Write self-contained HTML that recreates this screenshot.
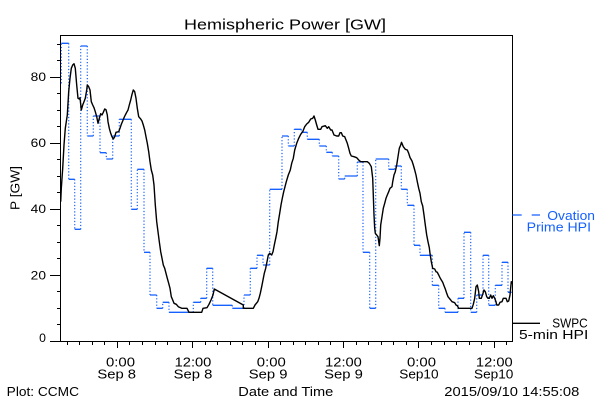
<!DOCTYPE html>
<html><head><meta charset="utf-8"><style>
html,body{margin:0;padding:0;background:#fff;}
svg{display:block;}
text{font-family:"Liberation Sans",sans-serif;fill:#000;}
</style></head><body>
<svg width="600" height="400" viewBox="0 0 600 400" xmlns="http://www.w3.org/2000/svg">
<rect width="600" height="400" fill="#fff"/>
<text x="184" y="29.5" font-size="15" textLength="202" lengthAdjust="spacingAndGlyphs">Hemispheric Power [GW]</text>

<!-- blue series -->
<g fill="none" stroke="#1560ff">
<path stroke-width="1.3" d="M60 83.3H61.3 M61.3 43.3H68.7 M68.7 179.3H74.7 M74.7 229.3H80.7 M80.7 46H87.3 M87.3 136H93.3 M93.3 116H100 M100 152.7H106.3 M106.3 159H112.7 M112.7 136H119.3 M119.3 119.3H131.3 M131.3 209.3H137.3 M137.3 169.3H144 M144 252.3H150 M150 295H156.7 M156.7 308.3H162.7 M162.7 302.3H169 M169 312.3H193.3 M193.3 302.3H200.7 M200.7 298.3H206.7 M206.7 268.3H212.7 M212.7 305.3H232.3 M232.3 308.3H244 M244 295H250.3 M250.3 268.3H257 M257 255.3H263 M263 265H269.7 M269.7 189.3H282 M282 136H288.3 M288.3 146H294.3 M294.3 129.3H301.3 M301.3 132.3H307.3 M307.3 139.3H319.3 M319.3 146H326.3 M326.3 152.3H332.3 M332.3 156H338.7 M338.7 179H344.7 M344.7 176H357.3 M357.3 162H363 M363 252.3H369.7 M369.7 308.3H375.7 M375.7 159H388.7 M388.7 169.3H394.7 M394.7 166H401.3 M401.3 189.3H407.3 M407.3 205.3H414 M414 245.3H420 M420 255.3H432.3 M432.3 285.3H438.7 M438.7 308.3H445 M445 312.3H458 M458 298.3H464 M464 232.3H470.7 M470.7 312.3H476.7 M476.7 295H483 M483 255.3H488.7 M488.7 305.3H495.3 M495.3 285.3H502 M502 262.3H508 M508 292.3H511.7"/>
<path stroke-width="1.2" stroke-dasharray="1.2 2" d="M61.3 83.3V43.3 M68.7 43.3V179.3 M74.7 179.3V229.3 M80.7 229.3V46 M87.3 46V136 M93.3 136V116 M100 116V152.7 M106.3 152.7V159 M112.7 159V136 M119.3 136V119.3 M131.3 119.3V209.3 M137.3 209.3V169.3 M144 169.3V252.3 M150 252.3V295 M156.7 295V308.3 M162.7 308.3V302.3 M169 302.3V312.3 M193.3 312.3V302.3 M200.7 302.3V298.3 M206.7 298.3V268.3 M212.7 268.3V305.3 M232.3 305.3V308.3 M244 308.3V295 M250.3 295V268.3 M257 268.3V255.3 M263 255.3V265 M269.7 265V189.3 M282 189.3V136 M288.3 136V146 M294.3 146V129.3 M301.3 129.3V132.3 M307.3 132.3V139.3 M319.3 139.3V146 M326.3 146V152.3 M332.3 152.3V156 M338.7 156V179 M344.7 179V176 M357.3 176V162 M363 162V252.3 M369.7 252.3V308.3 M375.7 308.3V159 M388.7 159V169.3 M394.7 169.3V166 M401.3 166V189.3 M407.3 189.3V205.3 M414 205.3V245.3 M420 245.3V255.3 M432.3 255.3V285.3 M438.7 285.3V308.3 M445 308.3V312.3 M458 312.3V298.3 M464 298.3V232.3 M470.7 232.3V312.3 M476.7 312.3V295 M483 295V255.3 M488.7 255.3V305.3 M495.3 305.3V285.3 M502 285.3V262.3 M508 262.3V292.3"/>
</g>

<!-- black series -->
<polyline fill="none" stroke="#000" stroke-width="1.4" stroke-linejoin="round" points="
60.7,201.7 61.3,188.3 62.7,168.3 64,145 65.3,128.3 67.3,115 68.7,91.7 70,78.3 71.3,68.3 72.7,65 74,63.7 75.3,68.3 76.7,85 78,98.3 79.3,99 80,97.7 81.3,110 82.7,105 84,101.7 85.3,98.3 86.7,90 87.3,85 88.7,86.7 90,90 91.3,101.7 92.7,105 94,107.7 95.3,111.7 96.7,116.7 98,123.3 99.3,118.3 100.7,113.7 102,115 103.3,112.3 104.7,109 106,109.7 107.3,115 108,121.7 109.3,128.3 110.7,133.3 112,136.7 113.3,139 114.7,136.7 116,132.3 118.7,131.7 120,128.3 121.3,124.3 122.7,121 124,117.7 125.3,115 126.7,112.3 128,110 129.3,105 130.7,100 132,94.3 133.3,90 134.7,91.7 136,98.3 137.3,108.3 138.7,116.7 140.7,119 142,121 143.3,125 144.7,130 146,136.7 147.3,143.3 148.7,151.7 150,161.7 151.3,170 152.7,175 154,185 155.3,205 156.7,221.7 158,231.7 159.3,241.7 160.7,251.7 162,258.3 163.3,265 164.7,268.3 166,273.3 167.3,278.3 168.7,283.3 170,288.3 171.3,296.7 172.7,300 174,303.3 176.3,304.3 178.3,306.7 181.7,308.3 187,308.3 189,312.3 201.7,312.3 203,308.3 207,307.7 209,304.3 211,300 213,295 214.3,289 243.3,305 243.3,308.3 253.3,308.3 255,305 257.7,301.7 259,298.3 260.3,293.3 261.7,286.7 263,280 264.3,273.3 265.7,268.3 267,261.7 268.3,255 269.7,253.3 271.7,255 273,251.7 274.3,245 275.7,238.3 277,231.7 278.3,221.7 279.7,213.3 281,205 282.3,198.3 283.7,191.7 285,186.7 286.3,181.7 288.3,175 290.3,170 291.7,163.3 293.3,158.3 294.7,150 296.7,143.3 298.7,138.3 300.7,134.3 302.7,131.7 304.7,126.7 306.7,124 308.7,122.3 310.7,119 312.7,118.3 314,116 315.3,120 316.7,125 318,129.3 320.7,129.3 322,126.7 325.3,125.7 327.3,128.3 328.7,126.7 330.7,130 332,130 334,135 336.7,136 338.7,136 340,132.7 341.3,132.7 342.7,136 344.7,136.7 346,140 347.3,143.3 348.7,148.3 350,153.3 351.3,156 354,156.7 356.7,157.7 358.7,160 360.7,161.7 367.3,161.7 369.3,163.3 371.3,166.7 372.7,178.3 373.3,195 374,215 374.7,228.3 375.3,233.3 376.7,235 378,236.7 379.3,245.7 380,238.3 380.7,225 382,216.7 383.3,208.3 384.7,203.3 386,198.3 387.3,195 388.7,191.7 390,188.3 392,186.7 392.7,181.7 394,175 395.3,171.7 396.7,165 398,156.7 399.3,148.3 400.7,145 401.5,142.3 403.3,146.7 405.3,149.3 407.3,150 408.7,153.3 410,157.5 412,161 413.3,165 414.7,170 416,175 417.3,181.7 418.7,188.3 420,193.3 421.3,201.7 422.7,206 424,215 425.3,225 426.7,235 428,241.7 429.3,247.7 430,253.3 431.3,261.7 432.7,268.3 434.7,269 436,271.7 437.3,272.3 438.7,275 440,277.7 441.3,280 442.7,282.3 444,285.7 445.3,289 446.7,293.3 448,296.7 449.3,298.3 450.7,300 452,301.7 454.7,302.7 456,305 457.3,305.7 458.7,308.3 472,308.3 473.3,304.3 474.7,298.3 476,286.7 477.3,285 478.7,291.7 479.3,298.3 481.3,298.3 482.7,294.3 484,290 485.3,291.7 486.7,296.7 488,298.3 489.3,298.3 490.7,295 492,298.3 493.3,295.7 494.7,298.3 496,301.7 496.7,305 498.7,305 500,302.3 502,301.7 503.3,298.3 506,298.3 507.3,301.7 508.7,301 510,295 511.3,281.7 512.5,283.3"/>

<!-- axes -->
<g stroke="#000" stroke-width="1" fill="none" shape-rendering="crispEdges">
<rect x="60.5" y="35.5" width="452" height="306"/>
<path d="M50 341.5H60 M50 275.5H60 M50 209.5H60 M50 143.5H60 M50 77.5H60"/>
<path d="M57 324.5H60 M57 308.5H60 M57 291.5H60 M57 258.5H60 M57 242.5H60 M57 225.5H60 M57 192.5H60 M57 176.5H60 M57 159.5H60 M57 126.5H60 M57 110.5H60 M57 93.5H60 M57 60.5H60 M57 44.5H60"/>
<path d="M117.5 341V348 M192.5 341V348 M268.5 341V348 M343.5 341V348 M418.5 341V348 M494.5 341V348"/>
<path d="M67.5 341V345 M79.5 341V345 M92.5 341V345 M104.5 341V345 M129.5 341V345 M142.5 341V345 M155.5 341V345 M167.5 341V345 M180.5 341V345 M205.5 341V345 M217.5 341V345 M230.5 341V345 M242.5 341V345 M255.5 341V345 M280.5 341V345 M293.5 341V345 M305.5 341V345 M318.5 341V345 M330.5 341V345 M356.5 341V345 M368.5 341V345 M381.5 341V345 M393.5 341V345 M406.5 341V345 M431.5 341V345 M444.5 341V345 M456.5 341V345 M469.5 341V345 M481.5 341V345 M506.5 341V345"/>
</g>

<!-- y tick labels -->
<g font-size="12" text-anchor="end">
<text x="46" y="81" textLength="15.3" lengthAdjust="spacingAndGlyphs">80</text>
<text x="46" y="146.8" textLength="15.3" lengthAdjust="spacingAndGlyphs">60</text>
<text x="46" y="213.2" textLength="15.3" lengthAdjust="spacingAndGlyphs">40</text>
<text x="46" y="279.4" textLength="15.3" lengthAdjust="spacingAndGlyphs">20</text>
<text x="46" y="342" textLength="6.8" lengthAdjust="spacingAndGlyphs">0</text>
</g>
<text transform="translate(19.5,188) rotate(-90)" font-size="13" text-anchor="middle" textLength="44" lengthAdjust="spacingAndGlyphs">P [GW]</text>

<!-- x tick labels -->
<g font-size="13" text-anchor="middle">
<text x="120.5" y="366.7" textLength="29" lengthAdjust="spacingAndGlyphs">0:00</text>
<text x="116.7" y="378.5" textLength="38.7" lengthAdjust="spacingAndGlyphs">Sep 8</text>
<text x="193" y="366.7" textLength="36.7" lengthAdjust="spacingAndGlyphs">12:00</text>
<text x="193" y="378.5" textLength="38.7" lengthAdjust="spacingAndGlyphs">Sep 8</text>
<text x="271.3" y="366.7" textLength="29" lengthAdjust="spacingAndGlyphs">0:00</text>
<text x="268.1" y="378.5" textLength="38.7" lengthAdjust="spacingAndGlyphs">Sep 9</text>
<text x="343.5" y="366.7" textLength="36.7" lengthAdjust="spacingAndGlyphs">12:00</text>
<text x="343.5" y="378.5" textLength="38.7" lengthAdjust="spacingAndGlyphs">Sep 9</text>
<text x="421.5" y="366.7" textLength="29" lengthAdjust="spacingAndGlyphs">0:00</text>
<text x="418.9" y="378.5" textLength="39.3" lengthAdjust="spacingAndGlyphs">Sep10</text>
<text x="494.3" y="366.7" textLength="36.7" lengthAdjust="spacingAndGlyphs">12:00</text>
<text x="493.7" y="378.5" textLength="39.3" lengthAdjust="spacingAndGlyphs">Sep10</text>
</g>

<!-- bottom texts -->
<g font-size="13">
<text x="6.7" y="396" textLength="72.3" lengthAdjust="spacingAndGlyphs">Plot: CCMC</text>
<text x="238.3" y="396" textLength="95" lengthAdjust="spacingAndGlyphs">Date and Time</text>
<text x="444.3" y="396" textLength="135" lengthAdjust="spacingAndGlyphs">2015/09/10 14:55:08</text>
</g>

<!-- legend -->
<g stroke-width="1.3" fill="none">
<path stroke="#1560ff" d="M512.5 215H521.7 M531.7 215H540"/>
<path stroke="#000" d="M512.5 323.3H540"/>
</g>
<g font-size="12.5">
<text x="547.3" y="220" style="fill:#1560ff" textLength="47.7" lengthAdjust="spacingAndGlyphs">Ovation</text>
<text x="526.7" y="231.7" style="fill:#1560ff" textLength="64.3" lengthAdjust="spacingAndGlyphs">Prime HPI</text>
<text x="552.3" y="327.3" textLength="35.4" lengthAdjust="spacingAndGlyphs">SWPC</text>
<text x="519" y="339" textLength="69.3" lengthAdjust="spacingAndGlyphs">5-min HPI</text>
</g>
</svg>
</body></html>
